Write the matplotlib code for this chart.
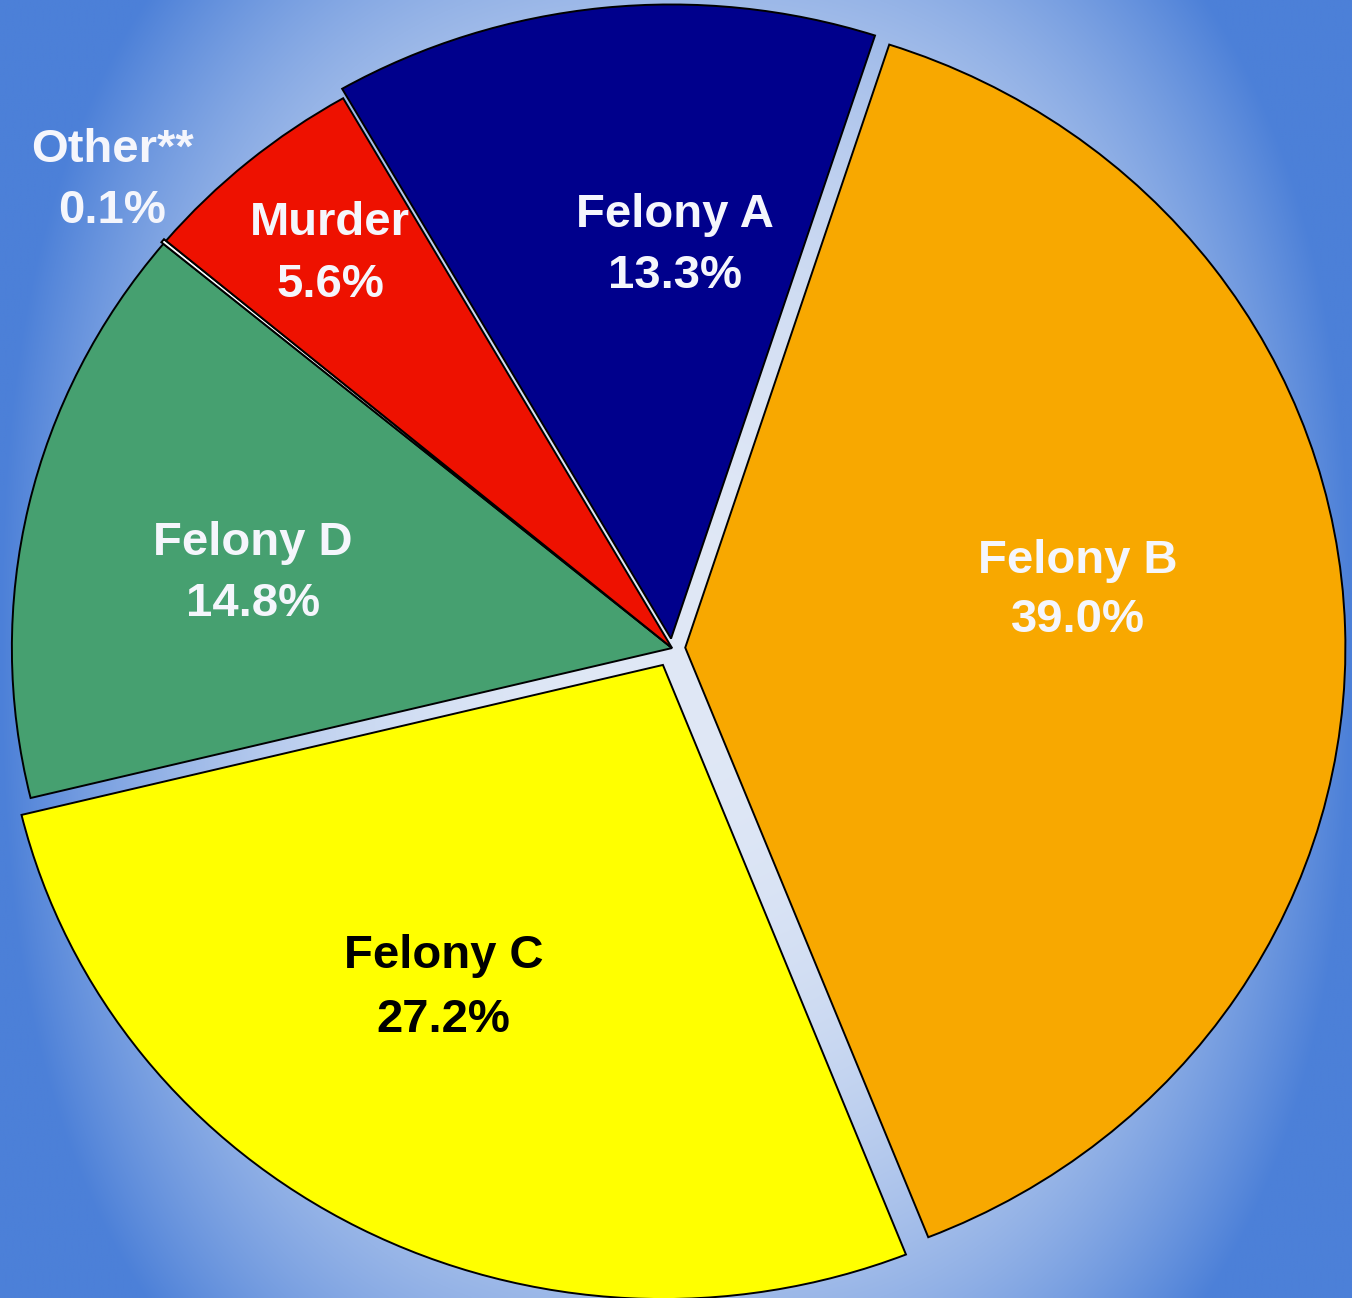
import numpy as np
import matplotlib
matplotlib.use('Agg')
import matplotlib.pyplot as plt

# доли по категориям преступлений (%), по часовой стрелке
categories = ['Felony B', 'Felony C', 'Felony D', 'Other**', 'Murder', 'Felony A']
shares = [39.0, 27.2, 14.8, 0.1, 5.6, 13.3]
colors = ['#F8A800', '#FFFF00', '#46A070', '#FFFFFF', '#EE1100', '#00008C']
explode = [0.02, 0.03, 0.0, 0.004, 0.0, 0.015]
text_colors = ['#F5F6FC', '#000000', '#F5F6FC', '#F5F6FC', '#F5F6FC', '#F5F6FC']

# положение подписей (базовые линии двух строк)
label_xy = [(0.615, 0.118, 0.025),
            (-0.346, -0.505, -0.605),
            (-0.635, 0.147, 0.050),
            (-0.848, 0.767, 0.670),
            (-0.518, 0.651, 0.554),
            (0.005, 0.664, 0.568)]

plt.rcParams['font.family'] = ['Liberation Sans', 'DejaVu Sans']

fig = plt.figure(figsize=(13.52, 12.98), dpi=100)
ax = fig.add_axes([0, 0, 1, 1])

xlim = (-1.018, 1.030)
ylim = (-1.025, 1.022)

# фон: светлый в центре, синий к краям
gx = np.linspace(-1, 1, 700)
gy = np.linspace(-1, 1, 700)
X, Y = np.meshgrid(gx, gy)
t = np.clip(np.abs(X) ** 2.5 + 0.45 * np.abs(Y) ** 2.5, 0, 1)
c_in = np.array([224, 232, 246]) / 255
c_out = np.array([76, 128, 216]) / 255
bg = c_in[None, None, :] * (1 - t[..., None]) + c_out[None, None, :] * t[..., None]
ax.imshow(bg, extent=(xlim[0], xlim[1], ylim[0], ylim[1]), aspect='auto',
          zorder=0, interpolation='bilinear')

wedges, _ = ax.pie(shares, colors=colors, explode=explode, startangle=72,
                   counterclock=False, radius=1.0,
                   wedgeprops=dict(edgecolor='black', linewidth=1.4, zorder=2))

for name, val, (x, y1, y2), tc in zip(categories, shares, label_xy, text_colors):
    ax.text(x, y1, name, ha='center', va='baseline', fontsize=34,
            fontweight='bold', color=tc, zorder=3)
    ax.text(x, y2, f'{val:.1f}%', ha='center', va='baseline', fontsize=34,
            fontweight='bold', color=tc, zorder=3)

ax.set_xlim(*xlim)
ax.set_ylim(*ylim)
ax.set_aspect('auto')
ax.axis('off')

fig.savefig('out.png', dpi=100)
